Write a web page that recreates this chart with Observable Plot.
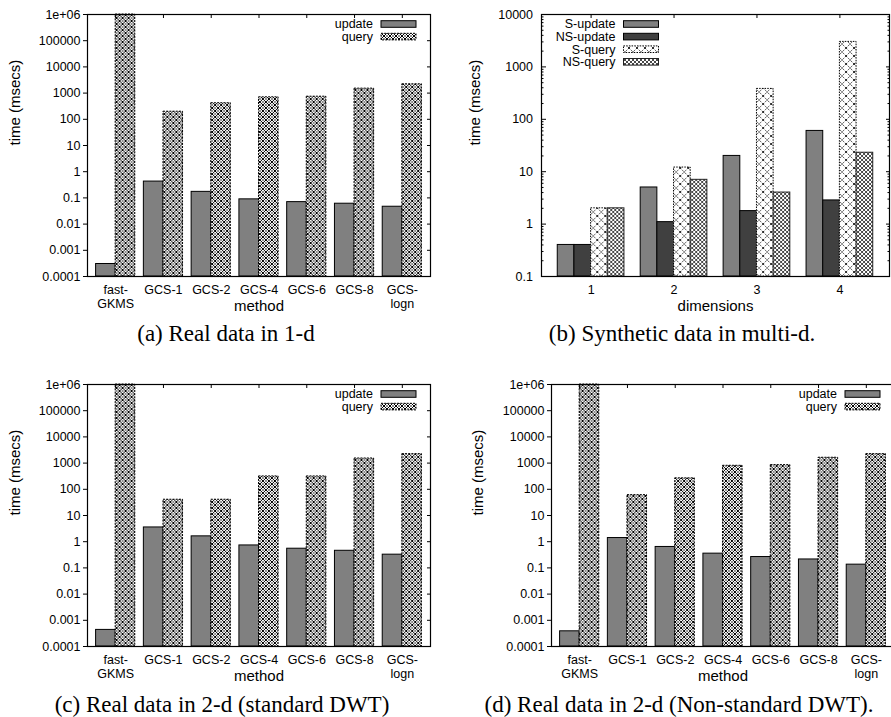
<!DOCTYPE html>
<html><head><meta charset="utf-8">
<script src="https://cdn.jsdelivr.net/npm/d3@7"></script>
<script src="https://cdn.jsdelivr.net/npm/@observablehq/plot@0.6"></script>
<style>
html,body{margin:0;padding:0;background:#fff;overflow:hidden;}
#page{position:relative;width:891px;height:717px;overflow:hidden;background:#fff;}
.panel{position:absolute;}
.panel svg{max-width:none !important;}
.cap{position:absolute;font-family:"Liberation Serif","Times New Roman",serif;font-size:23px;white-space:nowrap;transform:translate(-50%,-50%);color:#000;}
</style></head><body>
<svg width="0" height="0" style="position:absolute">
<defs>
<pattern id="pq" patternUnits="userSpaceOnUse" width="6" height="6">
<rect width="6" height="6" fill="#fff"/>
<path d="M0,0L6,6M6,0L0,6" stroke="#000" stroke-width="1"/>
<circle cx="3" cy="0" r="0.8"/><circle cx="3" cy="6" r="0.8"/><circle cx="0" cy="3" r="0.8"/><circle cx="6" cy="3" r="0.8"/>
</pattern>
<pattern id="psq" patternUnits="userSpaceOnUse" width="8" height="8">
<rect width="8" height="8" fill="#fff"/>
<path d="M0,0L8,8M8,0L0,8" stroke="#000" stroke-width="0.9" stroke-dasharray="1.3,1.2"/>
</pattern>
<pattern id="pnsq" patternUnits="userSpaceOnUse" width="4" height="4">
<rect width="4" height="4" fill="#fff"/>
<path d="M0,0L4,4M4,0L0,4" stroke="#333" stroke-width="0.9"/>
</pattern>
</defs></svg>
<div id="page"></div>
<script>
// ---------- data ----------
const methods = ["fast-GKMS","GCS-1","GCS-2","GCS-4","GCS-6","GCS-8","GCS-logn"];
const methodTickLabels = ["fast-\nGKMS","GCS-1","GCS-2","GCS-4","GCS-6","GCS-8","GCS-\nlogn"];
const realSeries = ["update","query"];

const aUpdate = [0.0003, 0.42, 0.17, 0.088, 0.069, 0.06, 0.046];
const aQuery  = [1e6, 195, 410, 690, 730, 1480, 2170];

const cUpdate = [0.00043, 3.5, 1.6, 0.72, 0.54, 0.45, 0.32];
const cQuery  = [1e6, 40, 40, 310, 310, 1500, 2200];

const dUpdate = [0.00038, 1.38, 0.63, 0.35, 0.26, 0.21, 0.133];
const dQuery  = [1e6, 60, 262, 790, 840, 1600, 2200];

const dimensions = ["1","2","3","4"];
const synthSeries = ["S-update","NS-update","S-query","NS-query"];
const bSUpdate  = [0.4, 5, 20, 60];
const bNSUpdate = [0.4, 1.09, 1.77, 2.83];
const bSQuery   = [2, 12, 380, 3000];
const bNSQuery  = [2, 7, 4, 23];

const wideTicks = [1e-4, 1e-3, 1e-2, 1e-1, 1, 10, 100, 1000, 1e4, 1e5, 1e6];
const wideTickLabels = ["0.0001","0.001","0.01","0.1","1","10","100","1000","10000","100000","1e+06"];
const synthTicks = [0.1, 1, 10, 100, 1000, 10000];
const synthTickLabels = ["0.1","1","10","100","1000","10000"];

const captions = ["(a) Real data in 1-d", "(b) Synthetic data in multi-d.", "(c) Real data in 2-d (standard DWT)", "(d) Real data in 2-d (Non-standard DWT)."];

// ---------- styles ----------
const realStyles = [
  {fill: "#808080", stroke: "#000", dash: null},
  {fill: "url(#pq)", stroke: "#000", dash: "2,1.2"}
];
const synthStyles = [
  {fill: "#808080", stroke: "#000", dash: null},
  {fill: "#404040", stroke: "#000", dash: null},
  {fill: "url(#psq)", stroke: "#000", dash: "1.5,1.2"},
  {fill: "url(#pnsq)", stroke: "#222", dash: null}
];

const SANS = "'Liberation Sans', Arial, Helvetica, sans-serif";

function makePanel(cfg) {
  const rows = cfg.categories.flatMap((c, i) => cfg.series.map((s, j) => ({cat: c, series: s, value: cfg.values[j][i]})));
  const tickMap = new Map(cfg.categories.map((c, i) => [c, cfg.tickLabels[i]]));
  const yMap = new Map(cfg.yTicks.map((t, i) => [t, cfg.yTickLabels[i]]));
  // outer padding of the facet band (super-facet marks span only the facets, so extend them by it)
  const W = cfg.width - cfg.mL - cfg.mR;
  const n = cfg.categories.length;
  const step = W / (n + cfg.fxPad);
  const off = cfg.fxPad * step;
  const marks = [];
  cfg.series.forEach((s, j) => {
    const st = cfg.styles[j];
    marks.push(Plot.barY(rows.filter(r => r.series === s), {
      fx: "cat", x: "series", y1: cfg.yDomain[0], y2: "value",
      fill: st.fill, stroke: st.stroke, strokeWidth: 1, strokeDasharray: st.dash
    }));
  });
  marks.push(Plot.frame({facet: "super", stroke: "#000", strokeWidth: 1.2, insetLeft: -off, insetRight: -off}));
  if (cfg.leftOut) {
    marks.push(Plot.axisY({anchor: "left", dx: -off, ticks: cfg.yTicks, tickSize: 4, tickPadding: 3, tickFormat: d => yMap.get(d), label: null, fontSize: 12.5}));
  } else {
    marks.push(Plot.axisY({anchor: "left", dx: -off, ticks: cfg.yTicks, tickSize: 0, tickPadding: 8.5, tickFormat: d => yMap.get(d), label: null, fontSize: 12.5}));
    marks.push(Plot.axisY({anchor: "left", dx: -off, ticks: cfg.yTicks, tickSize: -5, tickFormat: () => null, label: null}));
  }
  marks.push(Plot.axisY({anchor: "right", dx: off, ticks: cfg.yTicks, tickSize: -4, tickFormat: () => null, label: null}));
  if (cfg.minor) {
    marks.push(Plot.axisY({anchor: "left", dx: -off, ticks: cfg.minor, tickSize: -2.5, tickFormat: () => null, label: null}));
    marks.push(Plot.axisY({anchor: "right", dx: off, ticks: cfg.minor, tickSize: -2.5, tickFormat: () => null, label: null}));
  }
  marks.push(Plot.axisFx({anchor: "bottom", tickSize: 0, tickPadding: 7, tickFormat: c => tickMap.get(c), label: null, lineHeight: 1.15, fontSize: 12.5}));
  marks.push(Plot.axisFx({anchor: "top", tickSize: -3, tickFormat: () => null, label: null}));
  marks.push(Plot.text([cfg.xLabel], {facet: "super", frameAnchor: "bottom", dy: 30, text: d => d, fontSize: 15, lineAnchor: "middle"}));
  marks.push(Plot.text(["time (msecs)"], {facet: "super", frameAnchor: "left", dx: cfg.yLabelDx - off, rotate: -90, text: d => d, fontSize: 15, lineAnchor: "middle"}));

  const svg = Plot.plot({
    width: cfg.width, height: cfg.height,
    marginLeft: cfg.mL, marginRight: cfg.mR, marginTop: cfg.mT, marginBottom: cfg.mB,
    style: {fontFamily: SANS, fontSize: "12.5px", background: "transparent", color: "#000", overflow: "visible", maxWidth: "none"},
    fx: {domain: cfg.categories, paddingInner: cfg.fxPad, paddingOuter: cfg.fxPad, round: false, axis: null, label: null},
    x: {domain: cfg.series, paddingInner: 0, paddingOuter: 0, round: false, axis: null, label: null},
    y: {type: "log", domain: cfg.yDomain, axis: null, label: null},
    marks
  });
  svg.style.maxWidth = "none";

  // in-frame key
  const sel = d3.select(svg);
  const g = sel.append("g").attr("font-family", SANS).attr("font-size", 12.5);
  const frameTop = cfg.mT, frameRight = cfg.width - cfg.mR, frameLeft = cfg.mL;
  cfg.series.forEach((s, k) => {
    const st = cfg.styles[k];
    const yc = frameTop + 10 + k * 12.6;
    const sx = cfg.legendRight ? frameRight - 14 - 35 : frameLeft + 82.5;
    g.append("rect").attr("x", sx).attr("y", yc - 3.3).attr("width", 35).attr("height", 6.6)
      .attr("fill", st.fill).attr("stroke", st.stroke).attr("stroke-width", 1)
      .attr("stroke-dasharray", st.dash);
    g.append("text").attr("x", sx - 8).attr("y", yc).attr("dy", "0.35em")
      .attr("text-anchor", "end").text(s);
  });

  const wrap = document.createElement("div");
  wrap.className = "panel";
  wrap.style.left = cfg.left + "px";
  wrap.style.top = cfg.top + "px";
  wrap.style.width = cfg.width + "px";
  wrap.style.height = cfg.height + "px";
  wrap.appendChild(svg);
  document.getElementById("page").appendChild(wrap);
}

const minorSynth = [];
for (let e = -1; e < 4; e++) for (let m = 2; m <= 9; m++) minorSynth.push(m * Math.pow(10, e));

const realBase = {categories: methods, tickLabels: methodTickLabels, series: realSeries, styles: realStyles,
  yDomain: [1e-4, 1e6], yTicks: wideTicks, yTickLabels: wideTickLabels, xLabel: "method",
  fxPad: 0.18, leftOut: true, legendRight: true, height: 320, mT: 14, mB: 44};

makePanel({...realBase, values: [aUpdate, aQuery], left: 0, top: 0, width: 445, mL: 87, mR: 15, yLabelDx: -72});
makePanel({categories: dimensions, tickLabels: dimensions, series: synthSeries, styles: synthStyles,
  values: [bSUpdate, bNSUpdate, bSQuery, bNSQuery], yDomain: [0.1, 10000], yTicks: synthTicks, yTickLabels: synthTickLabels,
  minor: minorSynth, xLabel: "dimensions", fxPad: 0.196, leftOut: false, legendRight: false,
  left: 445, top: 0, width: 446, height: 320, mL: 96, mR: 2, mT: 14, mB: 44, yLabelDx: -66});
makePanel({...realBase, values: [cUpdate, cQuery], left: 0, top: 370, width: 445, mL: 87, mR: 15, yLabelDx: -72});
makePanel({...realBase, values: [dUpdate, dQuery], left: 445, top: 370, width: 460, mL: 106, mR: 11, yLabelDx: -73});

const capPos = [[226, 334], [682, 334], [222, 705], [679, 705]];
captions.forEach((c, i) => {
  const d = document.createElement("div");
  d.className = "cap";
  d.style.left = capPos[i][0] + "px";
  d.style.top = capPos[i][1] + "px";
  d.textContent = c;
  document.getElementById("page").appendChild(d);
});
</script>
</body></html>
